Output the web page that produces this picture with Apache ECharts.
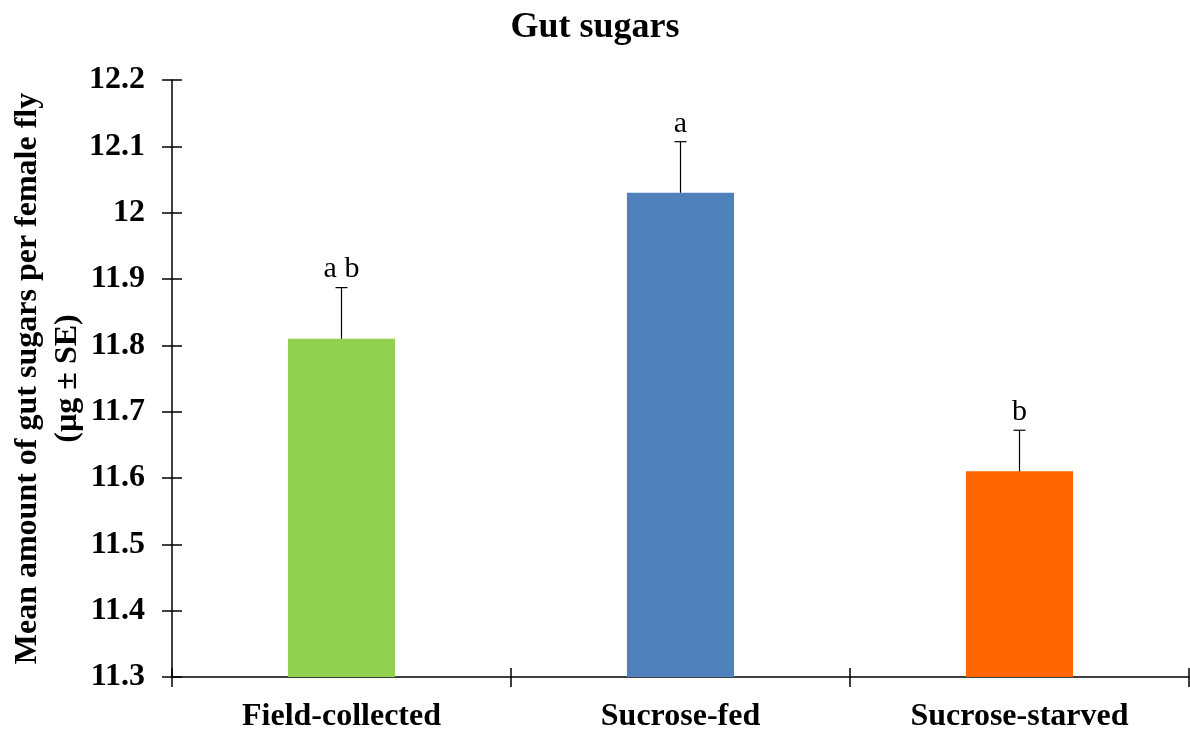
<!DOCTYPE html>
<html>
<head>
<meta charset="utf-8">
<script src="https://cdn.jsdelivr.net/npm/echarts@6/dist/echarts.min.js"></script>
<style>
  html, body { margin: 0; padding: 0; background: #fff; }
  #chart { width: 1190px; height: 734px; }
</style>
</head>
<body>
<div id="chart"></div>
<script>
// Treatment groups and their mean gut sugar amounts (µg per female fly)
const categories = ['Field-collected', 'Sucrose-fed', 'Sucrose-starved'];
const means = [11.81, 12.03, 11.61];
const stdErrors = [0.077, 0.077, 0.062];
const groupLetters = ['a b', 'a', 'b'];
const barColors = ['#92D050', '#4F81BD', '#FF6600'];
const yTicks = { min: 11.3, max: 12.2, interval: 0.1 };

const serif = '"Liberation Serif", "Times New Roman", serif';

const chart = echarts.init(document.getElementById('chart'));

const valueAxisBase = {
  type: 'value',
  min: yTicks.min,
  max: yTicks.max,
  interval: yTicks.interval,
  splitLine: { show: false }
};

chart.setOption({
  animation: false,
  title: {
    text: 'Gut sugars',
    left: 'center',
    top: 5,
    textStyle: { fontFamily: serif, fontWeight: 'bold', fontSize: 36, color: '#000' }
  },
  grid: { left: 172, right: 1, top: 80, bottom: 57, containLabel: false, outerBoundsMode: 'none' },
  xAxis: [
    {
      type: 'category',
      data: categories,
      axisLine: { lineStyle: { color: '#000', width: 1.5 } },
      axisTick: { show: true, length: 10, lineStyle: { color: '#000', width: 1.5 } },
      axisLabel: {
        margin: 24,
        fontFamily: serif, fontWeight: 'bold', fontSize: 32, color: '#000'
      }
    },
    {
      // inner half of the crossing x ticks
      type: 'category',
      data: categories,
      position: 'bottom',
      axisLine: { show: false },
      axisTick: { show: true, inside: true, length: 9, lineStyle: { color: '#000', width: 1.5 } },
      axisLabel: { show: false }
    }
  ],
  yAxis: [
    Object.assign({}, valueAxisBase, {
      name: 'Mean amount of gut sugars per female fly\n(µg ± SE)',
      nameLocation: 'middle',
      nameRotate: 90,
      nameGap: 84,
      nameMoveOverlap: false,
      nameTextStyle: {
        fontFamily: serif, fontWeight: 'bold', fontSize: 32, color: '#000', lineHeight: 40
      },
      axisLine: { show: true, lineStyle: { color: '#000', width: 1.5 } },
      axisTick: { show: true, length: 10, lineStyle: { color: '#000', width: 1.5 } },
      axisLabel: {
        margin: 27,
        fontFamily: serif, fontWeight: 'bold', fontSize: 32, color: '#000',
        formatter: v => String(parseFloat(v.toFixed(1)))
      }
    }),
    Object.assign({}, valueAxisBase, {
      // inner half of the crossing y ticks
      position: 'left',
      axisLine: { show: false },
      axisTick: { show: true, inside: true, length: 10, lineStyle: { color: '#000', width: 1.5 } },
      axisLabel: { show: false }
    })
  ],
  series: [
    {
      type: 'bar',
      barWidth: '31.6%',
      data: means.map((v, i) => ({ value: v, itemStyle: { color: barColors[i] } }))
    },
    {
      // upper standard-error whiskers with significance letters
      type: 'custom',
      z: 5,
      data: means.map((v, i) => [i, v, v + stdErrors[i]]),
      renderItem: function (params, api) {
        const base = api.coord([api.value(0), api.value(1)]);
        const top = api.coord([api.value(0), api.value(2)]);
        const half = 6;
        return {
          type: 'group',
          children: [
            {
              type: 'line',
              shape: { x1: base[0], y1: base[1], x2: top[0], y2: top[1] },
              style: { stroke: '#000', lineWidth: 1.2 }
            },
            {
              type: 'line',
              shape: { x1: top[0] - half, y1: top[1], x2: top[0] + half, y2: top[1] },
              style: { stroke: '#000', lineWidth: 1.2 }
            },
            {
              type: 'text',
              style: {
                text: groupLetters[params.dataIndex],
                x: top[0],
                y: top[1] - 3,
                align: 'center',
                verticalAlign: 'bottom',
                fontFamily: serif,
                fontSize: 30,
                fill: '#000'
              }
            }
          ]
        };
      }
    }
  ]
});
</script>
</body>
</html>
